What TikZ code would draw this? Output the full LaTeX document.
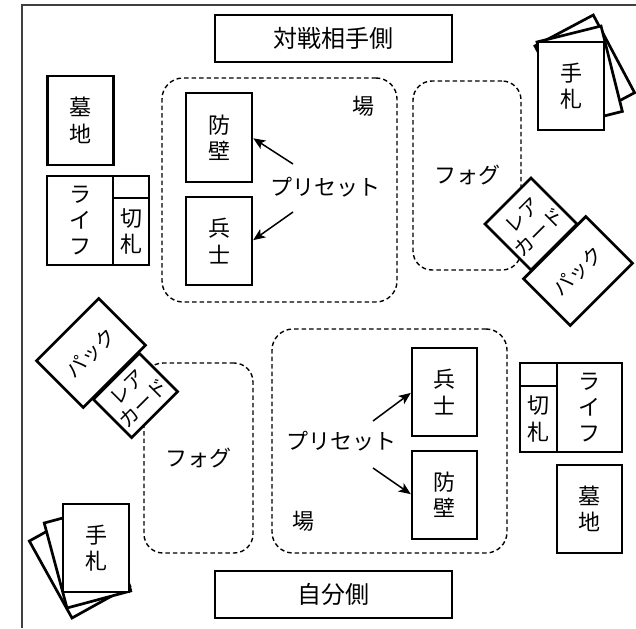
\documentclass[tikz,border=0pt]{standalone}
\usepackage{fontspec}
\setmainfont{Noto Sans CJK JP}
\usetikzlibrary{arrows.meta}
\tikzset{
  base/.style={font=\fontsize{22pt}{26.4pt}\selectfont, inner sep=0pt, outer sep=0pt, align=center},
  box/.style={base, draw=black, line width=2.7pt, fill=white},
  cardbox/.style={box, minimum width=66pt, minimum height=88pt},
  rotbox/.style={box, font=\fontsize{20pt}{23pt}\selectfont},
  titlebox/.style={box, minimum width=237pt, minimum height=47pt, font=\fontsize{24pt}{28pt}\selectfont},
  zone/.style={base, draw=black, line width=1.4pt, dash pattern=on 4.5pt off 3pt, rounded corners=21pt},
  lbl/.style={base},
  arr/.style={line width=1.5pt, -{Stealth[length=12pt, width=10pt, inset=3pt]}, shorten >=1.5pt},
  frameline/.style={line width=1.8pt, draw=black!75}
}
\begin{document}
\begin{tikzpicture}[x=1pt, y=-1pt]
\useasboundingbox (0,0) rectangle (636,628);
\draw[frameline] (22,628) -- (22,5) -- (636,5);

% titles
\node[titlebox] (opp) at (333.5,38.5) {対戦相手側};
\node[titlebox] (me) at (333.5,594.5) {自分側};

% ===== opponent side =====
\node[zone, minimum width=235pt, minimum height=224pt] (field1) at (279.5,190) {};
\node[zone, minimum width=108pt, minimum height=189pt, rounded corners=19pt] (fog1) at (467,175.5) {フォグ};
\node[lbl] (ba1) at (363,106) {場};

\node[cardbox, minimum height=89pt] (grave1) at (80.5,120.5) {墓\\地};
\node[box, minimum width=66pt, minimum height=89pt] (life1) at (80,220.5) {ラ\\イ\\フ};
\node[box, minimum width=36pt, minimum height=22pt] (empty1) at (131,187) {};
\node[box, minimum width=36pt, minimum height=67pt] (trump1) at (131,231.5) {切\\札};

\node[cardbox, minimum height=89pt] (wall1) at (219,137.5) {防\\壁};
\node[cardbox] (soldier1) at (219,241) {兵\\士};
\node[lbl] (preset1) at (325,187) {プリセット};
\coordinate (p1a) at (293,164);
\coordinate (p1b) at (293,212);
\draw[arr] (p1a) -- (wall1.east);
\draw[arr] (p1b) -- (soldier1.east);

\node[cardbox, anchor=north west, rotate=28] (hand1c) at (535,46) {};
\node[cardbox, anchor=north west, rotate=14] (hand1b) at (537,42) {};
\node[cardbox] (hand1) at (571,86) {手\\札};

\node[rotbox, minimum width=65pt, minimum height=65pt, rotate=45] (rare1) at (531,224) {レア\\カード};
\node[rotbox, minimum width=88pt, minimum height=66pt, rotate=45] (pack1) at (578,271) {パック};

% ===== my side =====
\node[zone, minimum width=235pt, minimum height=224pt] (field2) at (389.5,441) {};
\node[zone, minimum width=109pt, minimum height=190pt, rounded corners=19pt] (fog2) at (198.5,458) {フォグ};
\node[lbl] (ba2) at (303,521) {場};

\node[cardbox, minimum width=65pt] (grave2) at (589.5,509) {墓\\地};
\node[box, minimum width=65pt, minimum height=89pt] (life2) at (589.5,407.5) {ラ\\イ\\フ};
\node[box, minimum width=37pt, minimum height=23pt] (empty2) at (538.5,374.5) {};
\node[box, minimum width=37pt, minimum height=66pt] (trump2) at (538.5,419) {切\\札};

\node[cardbox, minimum width=65pt] (soldier2) at (444.5,392) {兵\\士};
\node[cardbox, minimum width=65pt] (wall2) at (444.5,495) {防\\壁};
\node[lbl] (preset2) at (341,441) {プリセット};
\coordinate (p2a) at (373,421);
\coordinate (p2b) at (373,468);
\draw[arr] (p2a) -- (soldier2.west);
\draw[arr] (p2b) -- (wall2.west);

\node[cardbox, anchor=south west, rotate=29] (hand2c) at (72,618) {};
\node[cardbox, anchor=south west, rotate=15] (hand2b) at (67,608) {};
\node[cardbox] (hand2) at (96,548) {手\\札};

\node[rotbox, minimum width=65pt, minimum height=54pt, rotate=45] (rare2) at (135.5,395.5) {レア\\カード};
\node[rotbox, minimum width=88pt, minimum height=66pt, rotate=45] (pack2) at (91,353) {パック};
\end{tikzpicture}
\end{document}
